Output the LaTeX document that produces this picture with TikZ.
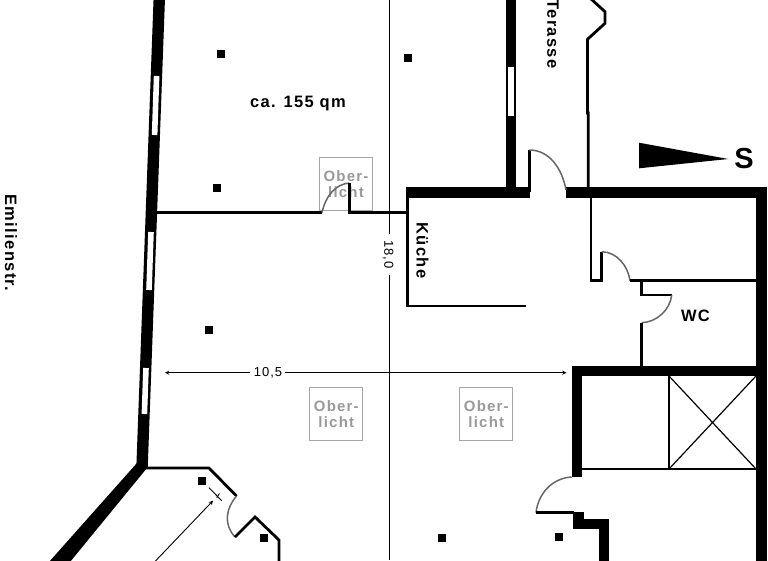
\documentclass[tikz,border=0pt]{standalone}
\usepackage{fontspec}
\usepackage{tikz}
\usetikzlibrary{arrows}
\newfontfamily\planfont[LetterSpace=8]{Liberation Sans}
\tikzset{
    heavywall/.style={line width=10.6pt},
    lightwall/.style={line width=2.8pt},
    pane/.style={white, line width=5.6pt},
    doorarc/.style={draw=black!60, line width=1.5pt},
    dimline/.style={line width=0.9pt},
    pillar/.style={fill=black, minimum size=8pt, inner sep=0pt},
    skylight/.style={draw=black!35, line width=1.2pt, text=black!40, minimum size=53pt, inner sep=0pt, align=center,
        font=\planfont\bfseries\fontsize{15}{16}\selectfont},
    planlabel/.style={inner sep=0pt, font=\planfont\bfseries\fontsize{16.5}{18}\selectfont}
}

\begin{document}
\begin{tikzpicture}[x=1pt,y=-1pt]
        \useasboundingbox (0,0) rectangle (768,560);
        \clip (0,0) rectangle (768,560);

        \node[skylight] (light1) at (346,183.7) {Ober-\\licht};
        \node[skylight] (light2) at (336.3,413.7) {Ober-\\licht};
        \node[skylight] (light3) at (486.3,413.7) {Ober-\\licht};

        \draw[dimline] (389.4,0) -- (389.4,234);
        \draw[dimline] (389.4,275) -- (389.4,560);

        \draw[line width=11.4pt] (159.3,-2) -- (142,468);
        \fill (137,463) -- (147,468) -- (70,562) -- (49,562) -- cycle;
        \draw[pane] (156.6,76) -- (154.6,135);
        \draw[pane] (151,232) -- (149,290);
        \draw[pane] (146,368) -- (144.4,414);

        \draw[lightwall] (145,468) -- (209,468) -- (236.5,496);
        \draw[doorarc] (236.5,496) .. controls (225,510) and (224,525) .. (235,537);
        \draw[lightwall] (235,537) -- (255,517) -- (279,540) -- (279,562);

        \draw[lightwall] (155,212.5) -- (322,212.5);
        \draw[doorarc] (322,212.5) .. controls (326,195) and (336,184) .. (349.5,183);
        \draw[lightwall] (349.5,183) -- (349.5,212.5) -- (407.5,212.5);

        \draw[heavywall] (511,-2) -- (511,192.5);
        \draw[pane] (511,67) -- (511,116);
        \draw[line width=11pt] (406,192.5) -- (530,192.5);
        \draw[line width=11pt] (566,192.5) -- (766.5,192.5);
        \draw[lightwall] (407.5,192) -- (407.5,306) -- (526,306);
        \draw[lightwall] (529.3,192) -- (529.3,150);
        \draw[doorarc] (529.3,150) .. controls (549,150) and (562,168) .. (566,190);

        \draw[lightwall] (590,-2) -- (605,11.7) -- (605,23.3) -- (587.5,39.3) -- (587.5,113) -- (588.3,113) -- (588.3,188);
        \draw[lightwall] (591,198) -- (591,280.7) -- (601.7,280.7) -- (601.7,251.7);
        \draw[doorarc] (601.7,251.7) .. controls (617,252) and (628,266) .. (630,280.7);
        \draw[lightwall] (630,280.7) -- (756,280.7);
        \draw[lightwall] (641.7,280.7) -- (641.7,295) -- (671.7,295);
        \draw[doorarc] (671.7,295) .. controls (670,310) and (657,322) .. (641.7,322.7);
        \draw[lightwall] (641.7,322.7) -- (641.7,366);

        \draw[heavywall] (761.2,187) -- (761.2,562);
        \draw[heavywall] (577,477) -- (577,371) -- (766,371);
        \draw[lightwall] (582,469) -- (756,469);
        \draw[lightwall] (669,376) -- (669,469);
        \draw[line width=1.2pt] (669,376) -- (756,469);
        \draw[line width=1.2pt] (756,376) -- (669,469);

        \draw[doorarc] (571.7,477) .. controls (552,478) and (538,494) .. (536,512.7);
        \draw[lightwall] (536,512.7) -- (574,512.7);
        \draw[heavywall] (578.7,511.5) -- (578.7,524) -- (603.8,524) -- (603.8,562);

        \fill (639,142.7) -- (728.3,159) -- (639,168.3) -- cycle;

        \draw[dimline, ->, >=stealth] (250,372.7) -- (165,372.7);
        \draw[dimline, ->, >=stealth] (285,372.7) -- (566.5,372.7);
        \draw[dimline, ->, >=stealth] (145,572) -- (213,500.7);
        \draw[dimline] (209,487.7) -- (221.7,500.7);
        \draw[dimline] (216.7,497.7) -- (219.5,493.5);

        \node[pillar] (post1) at (220.5,53.5) {};
        \node[pillar] (post2) at (407.5,58) {};
        \node[pillar] (post3) at (216.5,188) {};
        \node[pillar] (post4) at (209.3,330) {};
        \node[pillar] (post5) at (201.7,480.7) {};
        \node[pillar] (post6) at (263.7,538) {};
        \node[pillar] (post7) at (442.3,538) {};
        \node[pillar] (post8) at (558.7,536.7) {};

        \node[planlabel] (area) at (298,104) {ca. 155 qm};
        \node[planlabel, rotate=-90] (street) at (11,243) {Emilienstr.};
        \node[planlabel, rotate=-90] (terrace) at (553,34) {Terasse};
        \node[planlabel, rotate=-90] (kitchen) at (422.5,250.5) {Küche};
        \node[planlabel] (toilet) at (695.5,316) {WC};
        \node[inner sep=0pt, font=\planfont\bfseries\fontsize{29}{30}\selectfont] (south) at (744,158.5) {S};
        \node[inner sep=0pt, rotate=-90, font=\planfont\fontsize{13}{14}\selectfont] (len18) at (388,254.5) {18,0};
        \node[inner sep=0pt, font=\planfont\fontsize{13}{14}\selectfont] (len10) at (268,372.5) {10,5};
    \end{tikzpicture}
\end{document}
